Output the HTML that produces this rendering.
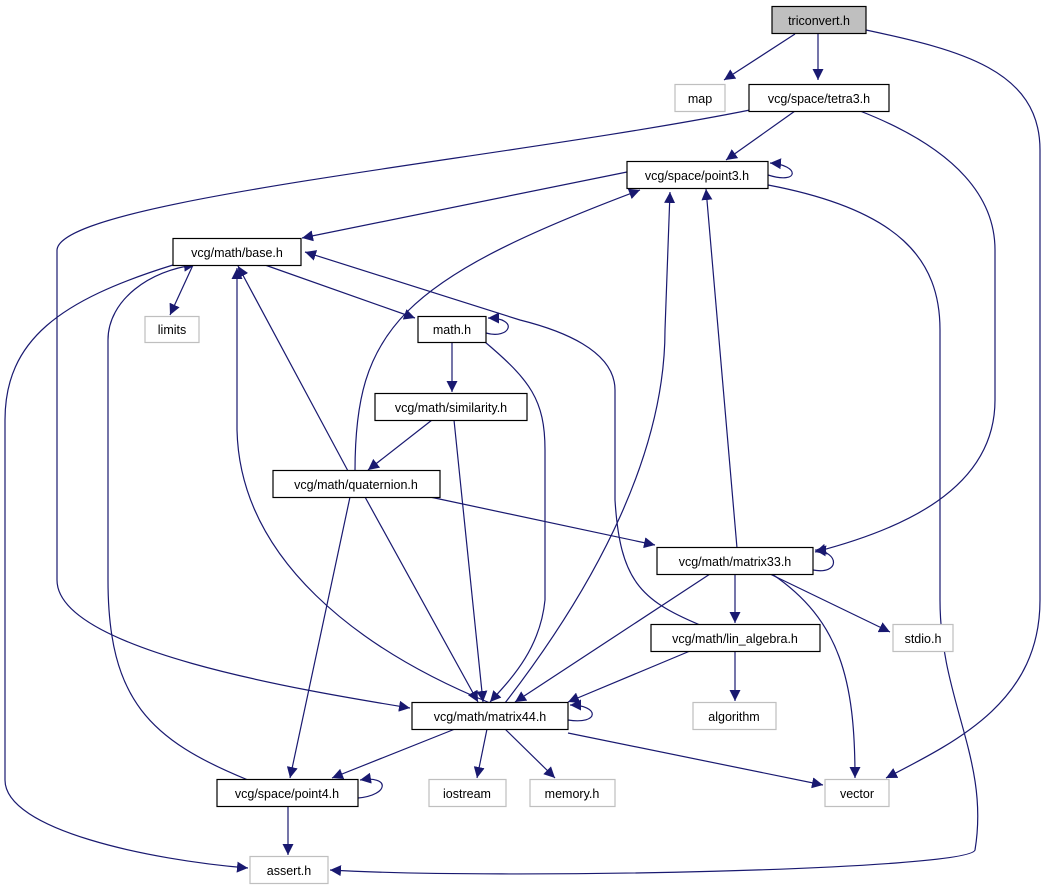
<!DOCTYPE html>
<html><head><meta charset="utf-8"><style>
html,body{margin:0;padding:0;background:#fff;}
svg text{font-family:"Liberation Sans","DejaVu Sans",sans-serif;font-size:12.5px;fill:#000;text-anchor:middle;}
</style></head><body>
<svg width="1051" height="891" viewBox="0 0 1051 891" xmlns="http://www.w3.org/2000/svg">
<defs><marker id="a" viewBox="0 0 10 10" refX="10" refY="5" markerWidth="11" markerHeight="11" markerUnits="userSpaceOnUse" orient="auto"><path d="M0,0 L10,5 L0,10 z" fill="#191970"/></marker></defs>
<g fill="none" stroke="#191970" stroke-width="1.2" marker-end="url(#a)">
<path d="M795,34 L724,80"/>
<path d="M818,34 L818,80"/>
<path d="M866,30 C960,50 1040,70 1040,150 L1040,600 C1040,700 960,740 886,778"/>
<path d="M795,111 L726,160"/>
<path d="M750,110 C500,160 60,200 57,250 L57,580 C57,650 300,690 410,708"/>
<path d="M860,111 C960,150 995,200 995,250 L995,400 C995,490 900,530 815,552"/>
<path d="M768,175 C800,185 800,165 770,163"/>
<path d="M627,172 L302,238"/>
<path d="M768,185 C900,210 940,260 940,330 L940,600 C940,700 990,760 975,850 C970,870 500,880 330,870"/>
<path d="M193,265 L170,315"/>
<path d="M265,265 L415,318"/>
<path d="M173,265 C60,300 5,340 5,420 L5,780 C5,830 150,860 248,868"/>
<path d="M486,333 C510,340 520,318 488,318"/>
<path d="M452,342 L452,392"/>
<path d="M485,342 C530,380 545,400 545,450 L545,600 C540,650 510,680 490,702"/>
<path d="M432,420 L368,470"/>
<path d="M454,420 L483,702"/>
<path d="M348,471 L238,266"/>
<path d="M355,471 C355,330 400,280 640,190"/>
<path d="M430,497 L655,545"/>
<path d="M365,497 L478,702"/>
<path d="M350,497 L290,778"/>
<path d="M813,570 C840,575 840,552 815,550"/>
<path d="M737,548 L706,189"/>
<path d="M735,574 L735,623"/>
<path d="M770,574 L890,632"/>
<path d="M772,574 C840,620 855,680 855,778"/>
<path d="M710,574 L515,702"/>
<path d="M700,625 C640,600 620,580 615,500 L615,390 C615,350 560,330 520,320 L305,252"/>
<path d="M690,651 L568,702"/>
<path d="M735,651 L735,701"/>
<path d="M568,720 C600,725 600,705 570,705"/>
<path d="M505,703 C600,580 665,450 665,330 L670,192"/>
<path d="M490,703 C360,650 240,560 237,430 L237,268"/>
<path d="M455,729 L332,778"/>
<path d="M487,729 L477,778"/>
<path d="M505,729 L555,778"/>
<path d="M568,733 L823,785"/>
<path d="M358,798 C390,795 390,775 360,780"/>
<path d="M288,806 L288,855"/>
<path d="M248,780 C150,740 108,700 108,580 L108,340 C108,300 150,270 195,265"/>
</g>
<g stroke-width="1.2">
<rect x="772" y="6.5" width="94" height="27" fill="#bfbfbf" stroke="#000"/>
<rect x="675" y="84.5" width="50" height="27" fill="#fff" stroke="#bfbfbf"/>
<rect x="749" y="84.5" width="140" height="27" fill="#fff" stroke="#000"/>
<rect x="627" y="161.5" width="141" height="27" fill="#fff" stroke="#000"/>
<rect x="173" y="238.5" width="128" height="27" fill="#fff" stroke="#000"/>
<rect x="145" y="316.5" width="54" height="26" fill="#fff" stroke="#bfbfbf"/>
<rect x="418" y="316.5" width="68" height="26" fill="#fff" stroke="#000"/>
<rect x="375" y="393.5" width="152" height="27" fill="#fff" stroke="#000"/>
<rect x="273" y="470.5" width="167" height="27" fill="#fff" stroke="#000"/>
<rect x="657" y="547.5" width="156" height="27" fill="#fff" stroke="#000"/>
<rect x="893" y="624.5" width="60" height="27" fill="#fff" stroke="#bfbfbf"/>
<rect x="651" y="624.5" width="169" height="27" fill="#fff" stroke="#000"/>
<rect x="693" y="702.5" width="83" height="27" fill="#fff" stroke="#bfbfbf"/>
<rect x="412" y="702.5" width="156" height="27" fill="#fff" stroke="#000"/>
<rect x="217" y="779.5" width="141" height="27" fill="#fff" stroke="#000"/>
<rect x="429" y="779.5" width="77" height="27" fill="#fff" stroke="#bfbfbf"/>
<rect x="530" y="779.5" width="85" height="27" fill="#fff" stroke="#bfbfbf"/>
<rect x="825" y="779.5" width="64" height="27" fill="#fff" stroke="#bfbfbf"/>
<rect x="250" y="856.5" width="78" height="27" fill="#fff" stroke="#bfbfbf"/>
</g>
<text x="819" y="25">triconvert.h</text>
<text x="700" y="103">map</text>
<text x="819" y="103">vcg/space/tetra3.h</text>
<text x="697" y="180">vcg/space/point3.h</text>
<text x="237" y="257">vcg/math/base.h</text>
<text x="172" y="334">limits</text>
<text x="452" y="334">math.h</text>
<text x="451" y="412">vcg/math/similarity.h</text>
<text x="356" y="489">vcg/math/quaternion.h</text>
<text x="735" y="566">vcg/math/matrix33.h</text>
<text x="923" y="643">stdio.h</text>
<text x="735" y="643">vcg/math/lin_algebra.h</text>
<text x="734" y="721">algorithm</text>
<text x="490" y="721">vcg/math/matrix44.h</text>
<text x="287" y="798">vcg/space/point4.h</text>
<text x="467" y="798">iostream</text>
<text x="572" y="798">memory.h</text>
<text x="857" y="798">vector</text>
<text x="289" y="875">assert.h</text>
</svg>
</body></html>
